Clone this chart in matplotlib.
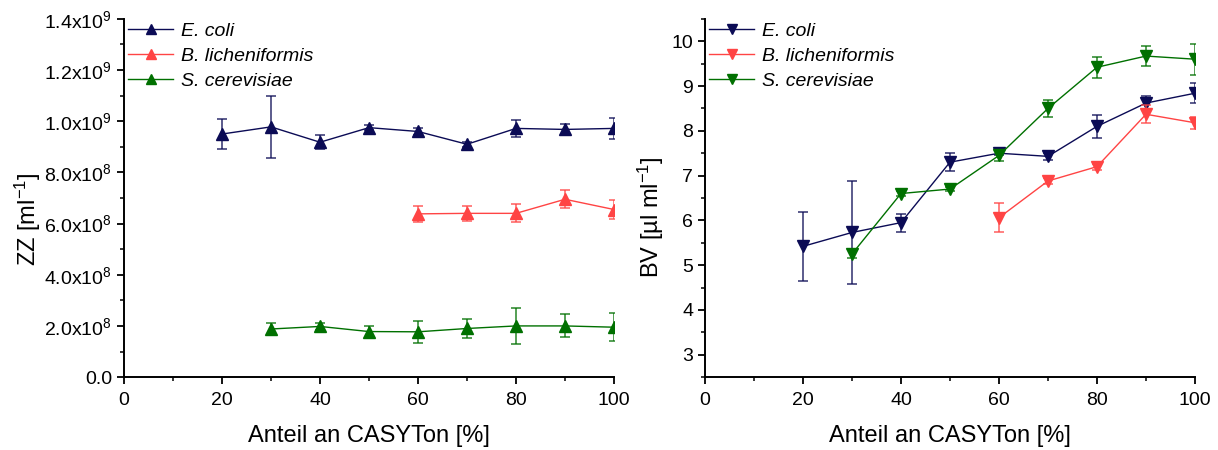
import matplotlib
matplotlib.use("Agg")
import matplotlib.pyplot as plt
from matplotlib.ticker import MultipleLocator, FuncFormatter

plt.rcParams['font.family'] = ['Liberation Sans', 'DejaVu Sans']
plt.rcParams['mathtext.fontset'] = 'custom'
plt.rcParams['mathtext.rm'] = 'Liberation Sans'
plt.rcParams['mathtext.it'] = 'Liberation Sans:italic'

# Anteil an CASYTon [%]
x_ecoli = [20, 30, 40, 50, 60, 70, 80, 90, 100]
x_blich = [60, 70, 80, 90, 100]
x_scer = [30, 40, 50, 60, 70, 80, 90, 100]

# ZZ [ml^-1]
zz_ecoli = [0.95e9, 0.978e9, 0.918e9, 0.975e9, 0.96e9, 0.91e9, 0.972e9, 0.968e9, 0.972e9]
zz_ecoli_err = [0.06e9, 0.122e9, 0.028e9, 0.01e9, 0.015e9, 0.01e9, 0.033e9, 0.02e9, 0.04e9]
zz_blich = [0.638e9, 0.64e9, 0.64e9, 0.695e9, 0.655e9]
zz_blich_err = [0.03e9, 0.03e9, 0.035e9, 0.035e9, 0.037e9]
zz_scer = [0.188e9, 0.198e9, 0.178e9, 0.177e9, 0.19e9, 0.2e9, 0.2e9, 0.195e9]
zz_scer_err = [0.025e9, 0.015e9, 0.02e9, 0.042e9, 0.037e9, 0.07e9, 0.045e9, 0.055e9]

# BV [ul ml^-1]
bv_ecoli = [5.42, 5.73, 5.95, 7.3, 7.5, 7.43, 8.1, 8.62, 8.84]
bv_ecoli_err = [0.77, 1.15, 0.2, 0.2, 0.05, 0.08, 0.25, 0.15, 0.22]
bv_blich = [6.06, 6.88, 7.2, 8.37, 8.18]
bv_blich_err = [0.33, 0.07, 0.07, 0.2, 0.13]
bv_scer = [5.25, 6.6, 6.7, 7.45, 8.5, 9.42, 9.67, 9.6]
bv_scer_err = [0.1, 0.05, 0.05, 0.12, 0.18, 0.23, 0.23, 0.35]

labels = ['E. coli', 'B. licheniformis', 'S. cerevisiae']
colors = ['#0b0b55', '#ff4444', '#007000']


def sci_fmt(v, pos):
    if v == 0:
        return '0.0'
    e = 0
    m = v
    while abs(m) >= 10:
        m /= 10
        e += 1
    return f'{m:.1f}x10$^{{{e}}}$'


def style_axes(ax):
    for s in ['top', 'right']:
        ax.spines[s].set_visible(False)
    for s in ['left', 'bottom']:
        ax.spines[s].set_linewidth(1.4)
    ax.set_xlim(0, 100)
    ax.xaxis.set_major_locator(MultipleLocator(20))
    ax.xaxis.set_minor_locator(MultipleLocator(10))
    ax.tick_params(which='major', direction='out', length=5, width=1.3, labelsize=14)
    ax.tick_params(axis='x', which='major', pad=5.5)
    ax.tick_params(which='minor', direction='out', length=3, width=1.1)
    ax.set_xlabel('Anteil an CASYTon [%]', fontsize=17, labelpad=12)


def draw(ax, xs, ys, errs, marker):
    for x, y, e, lab, c in zip(xs, ys, errs, labels, colors):
        ax.errorbar(x, y, yerr=e, fmt='none', ecolor=c, elinewidth=1.1,
                    capsize=3.5, capthick=1.1, alpha=0.85)
        ax.plot(x, y, color=c, marker=marker, ms=8, lw=1.0, label=lab)
    leg = ax.legend(loc='upper left', bbox_to_anchor=(-0.015, 1.022), frameon=False,
                    fontsize=14, handlelength=2.3, handletextpad=0.4,
                    labelspacing=0.36, borderaxespad=0.2, markerscale=0.9)
    for t in leg.get_texts():
        t.set_fontstyle('italic')


fig = plt.figure(figsize=(12.18, 4.5), dpi=100)
ax1 = fig.add_axes([0.1018, 0.162, 0.4023, 0.796])
ax2 = fig.add_axes([0.5788, 0.162, 0.4023, 0.796])

draw(ax1, [x_ecoli, x_blich, x_scer], [zz_ecoli, zz_blich, zz_scer],
     [zz_ecoli_err, zz_blich_err, zz_scer_err], '^')
style_axes(ax1)
ax1.set_ylim(0, 1.4e9)
ax1.yaxis.set_major_locator(MultipleLocator(2e8))
ax1.yaxis.set_minor_locator(MultipleLocator(1e8))
ax1.yaxis.set_major_formatter(FuncFormatter(sci_fmt))
ax1.set_ylabel('ZZ [ml$^{-1}$]', fontsize=17, labelpad=1)
ax1.yaxis.label.set_y(0.44)

draw(ax2, [x_ecoli, x_blich, x_scer], [bv_ecoli, bv_blich, bv_scer],
     [bv_ecoli_err, bv_blich_err, bv_scer_err], 'v')
style_axes(ax2)
ax2.set_ylim(2.5, 10.5)
ax2.yaxis.set_major_locator(MultipleLocator(1))
ax2.yaxis.set_minor_locator(MultipleLocator(0.5))
ax2.set_ylabel('BV [µl ml$^{-1}$]', fontsize=17, labelpad=4)
ax2.yaxis.label.set_y(0.447)

fig.savefig('out.png', dpi=100)
